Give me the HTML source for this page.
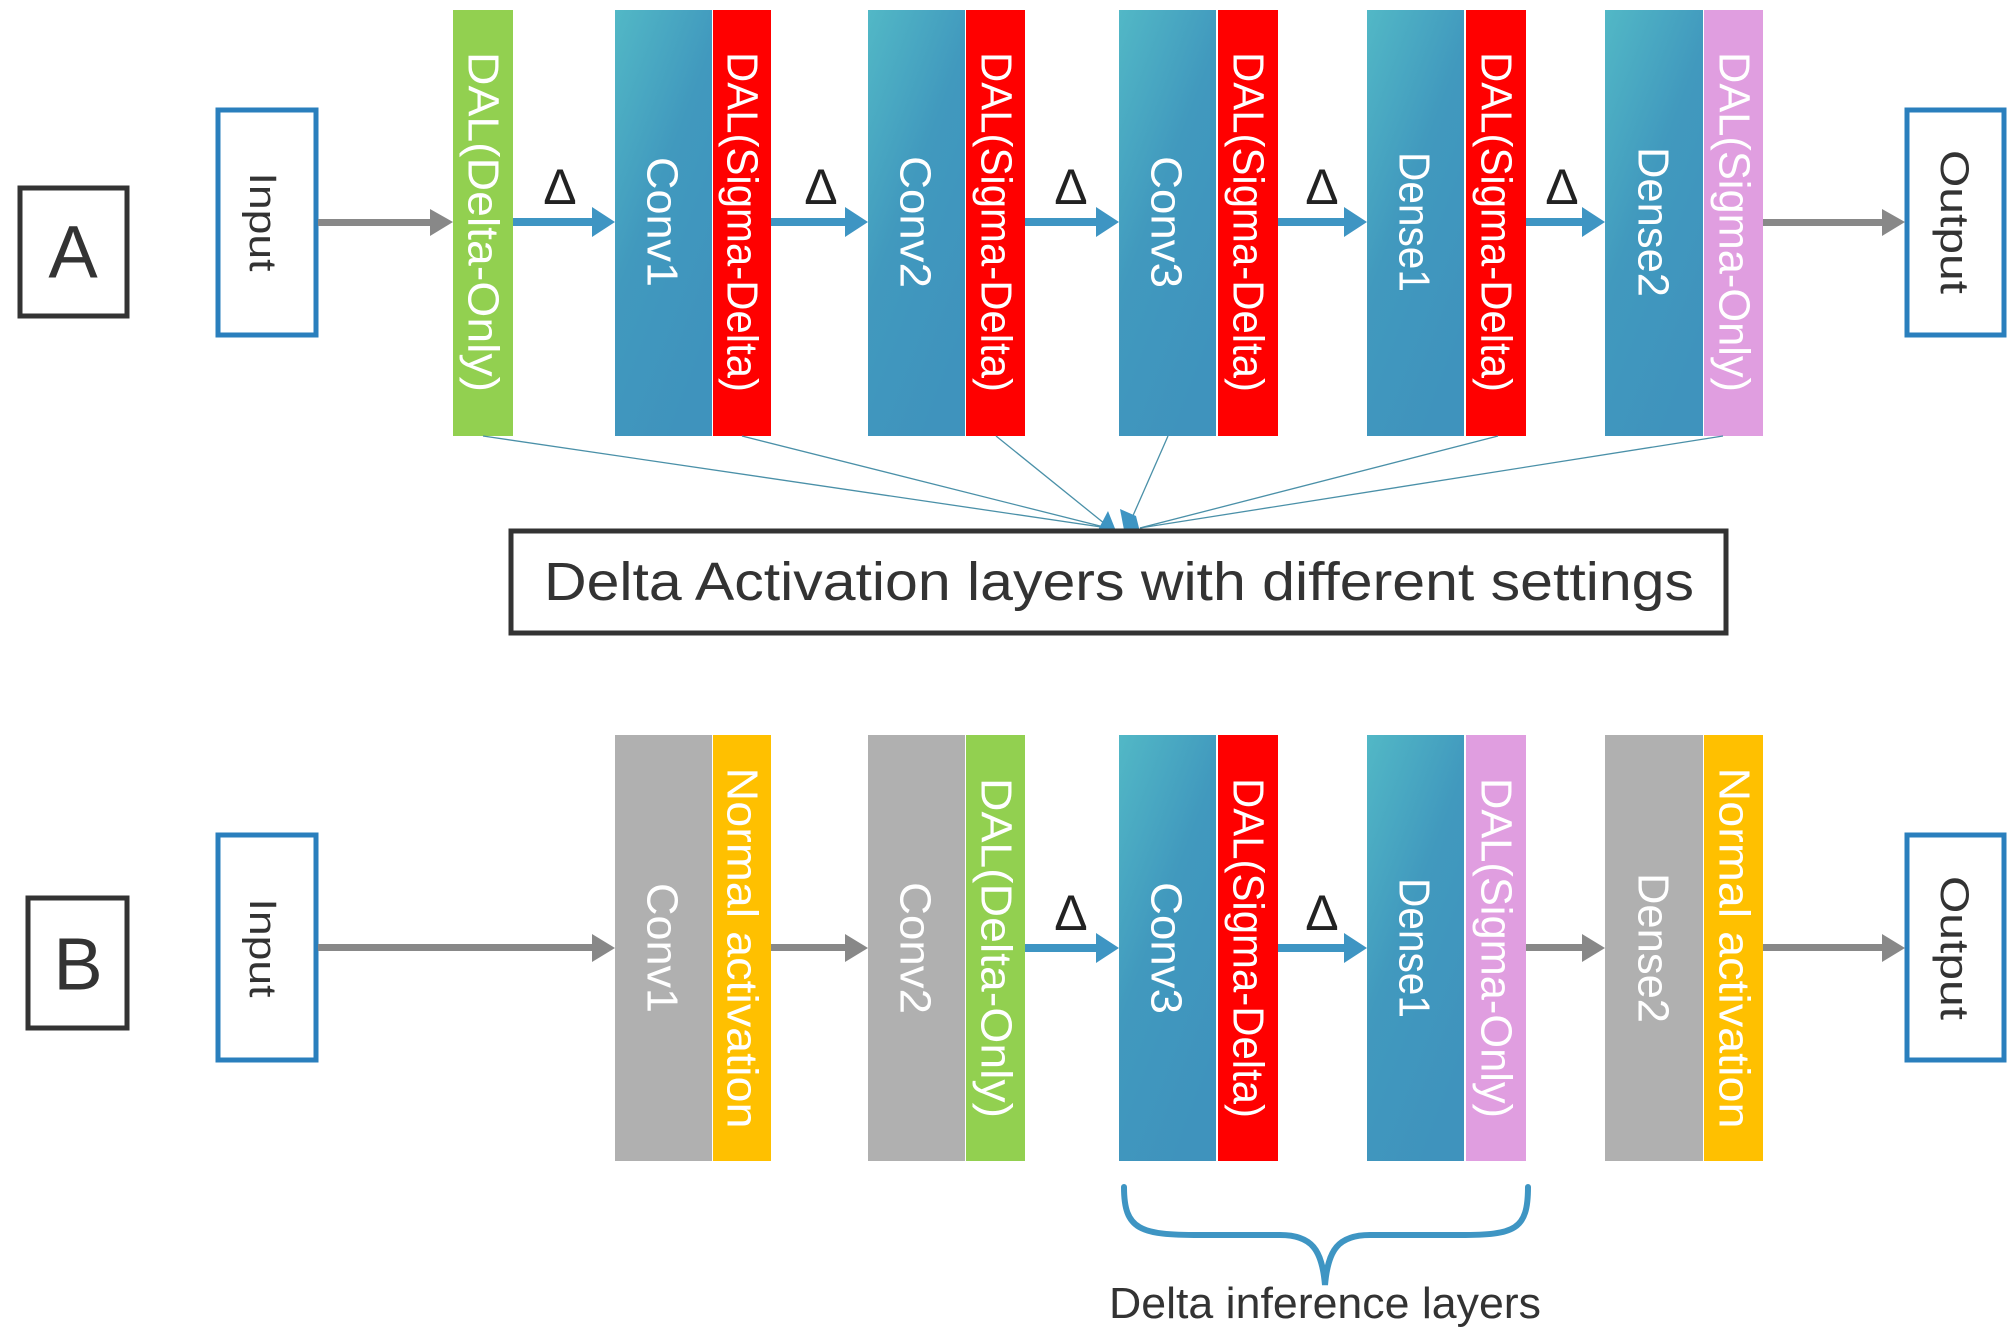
<!DOCTYPE html>
<html><head><meta charset="utf-8"><style>
html,body{margin:0;padding:0;background:#fff}
svg{display:block}
text{font-family:"Liberation Sans",sans-serif}
</style></head><body>
<svg width="2016" height="1338" viewBox="0 0 2016 1338" xmlns="http://www.w3.org/2000/svg">
<defs>
<linearGradient id="tg" x1="0" y1="0" x2="0.6" y2="1">
<stop offset="0" stop-color="#52b8c6"/><stop offset="0.5" stop-color="#4199be"/><stop offset="1" stop-color="#3f93bd"/>
</linearGradient>
</defs>

<!-- ROW A -->
<rect x="20" y="188" width="107" height="128" fill="#fff" stroke="#333" stroke-width="5"/>
<text x="73" y="252" font-size="74" fill="#333" text-anchor="middle" dominant-baseline="central">A</text>
<rect x="218" y="110" width="98" height="225" fill="#fff" stroke="#2a7fbd" stroke-width="5"/>
<text transform="translate(262,222) rotate(90)" font-size="38" fill="#333" text-anchor="middle" dominant-baseline="central" textLength="99" lengthAdjust="spacingAndGlyphs">Input</text>

<rect x="453" y="10" width="60" height="426" fill="#92d050"/>
<text transform="translate(483,222) rotate(90)" font-size="44" fill="#fff" text-anchor="middle" dominant-baseline="central" textLength="340" lengthAdjust="spacingAndGlyphs">DAL(Delta-Only)</text>

<rect x="615" y="10" width="97" height="426" fill="url(#tg)"/>
<rect x="713" y="10" width="58" height="426" fill="#ff0000"/>
<text transform="translate(662,222) rotate(90)" font-size="44" fill="#fff" text-anchor="middle" dominant-baseline="central" textLength="130" lengthAdjust="spacingAndGlyphs">Conv1</text>
<text transform="translate(742,222) rotate(90)" font-size="44" fill="#fff" text-anchor="middle" dominant-baseline="central" textLength="340" lengthAdjust="spacingAndGlyphs">DAL(Sigma-Delta)</text>

<rect x="868" y="10" width="97" height="426" fill="url(#tg)"/>
<rect x="966" y="10" width="59" height="426" fill="#ff0000"/>
<text transform="translate(915,222) rotate(90)" font-size="44" fill="#fff" text-anchor="middle" dominant-baseline="central" textLength="132" lengthAdjust="spacingAndGlyphs">Conv2</text>
<text transform="translate(996,222) rotate(90)" font-size="44" fill="#fff" text-anchor="middle" dominant-baseline="central" textLength="340" lengthAdjust="spacingAndGlyphs">DAL(Sigma-Delta)</text>

<rect x="1119" y="10" width="97" height="426" fill="url(#tg)"/>
<rect x="1218" y="10" width="60" height="426" fill="#ff0000"/>
<text transform="translate(1166,222) rotate(90)" font-size="44" fill="#fff" text-anchor="middle" dominant-baseline="central" textLength="132" lengthAdjust="spacingAndGlyphs">Conv3</text>
<text transform="translate(1248,222) rotate(90)" font-size="44" fill="#fff" text-anchor="middle" dominant-baseline="central" textLength="340" lengthAdjust="spacingAndGlyphs">DAL(Sigma-Delta)</text>

<rect x="1367" y="10" width="97" height="426" fill="url(#tg)"/>
<rect x="1466" y="10" width="60" height="426" fill="#ff0000"/>
<text transform="translate(1414,222) rotate(90)" font-size="44" fill="#fff" text-anchor="middle" dominant-baseline="central" textLength="140" lengthAdjust="spacingAndGlyphs">Dense1</text>
<text transform="translate(1496,222) rotate(90)" font-size="44" fill="#fff" text-anchor="middle" dominant-baseline="central" textLength="340" lengthAdjust="spacingAndGlyphs">DAL(Sigma-Delta)</text>

<rect x="1605" y="10" width="98" height="426" fill="url(#tg)"/>
<rect x="1704" y="10" width="59" height="426" fill="#e09ee0"/>
<text transform="translate(1653,222) rotate(90)" font-size="44" fill="#fff" text-anchor="middle" dominant-baseline="central" textLength="150" lengthAdjust="spacingAndGlyphs">Dense2</text>
<text transform="translate(1734,222) rotate(90)" font-size="44" fill="#fff" text-anchor="middle" dominant-baseline="central" textLength="340" lengthAdjust="spacingAndGlyphs">DAL(Sigma-Only)</text>

<rect x="1907" y="110" width="97" height="225" fill="#fff" stroke="#2a7fbd" stroke-width="5"/>
<text transform="translate(1954,222) rotate(90)" font-size="40" fill="#333" text-anchor="middle" dominant-baseline="central" textLength="144" lengthAdjust="spacingAndGlyphs">Output</text>

<!-- arrows A -->
<g fill="#888">
<rect x="318" y="219" width="115" height="7"/><polygon points="430,209 453,222 430,236"/>
<rect x="1763" y="219" width="122" height="7"/><polygon points="1882,209 1905,222 1882,236"/>
</g>
<g fill="#3e95c3">
<rect x="513" y="218" width="82" height="8"/><polygon points="592,207 615,222 592,237"/>
<rect x="771" y="218" width="77" height="8"/><polygon points="845,207 868,222 845,237"/>
<rect x="1025" y="218" width="74" height="8"/><polygon points="1096,207 1119,222 1096,237"/>
<rect x="1278" y="218" width="69" height="8"/><polygon points="1344,207 1367,222 1344,237"/>
<rect x="1526" y="218" width="59" height="8"/><polygon points="1582,207 1605,222 1582,237"/>
</g>
<g font-family="Liberation Serif,serif" font-size="50" fill="#222" text-anchor="middle">
<text x="560" y="204">Δ</text><text x="821" y="204">Δ</text><text x="1071" y="204">Δ</text><text x="1322" y="204">Δ</text><text x="1562" y="204">Δ</text>
</g>

<!-- fan lines -->
<g stroke="#4a90a8" stroke-width="1.3" fill="none">
<line x1="483" y1="436" x2="1108" y2="528"/>
<line x1="742" y1="436" x2="1108" y2="528"/>
<line x1="996" y1="436" x2="1110" y2="528"/>
<line x1="1168" y1="436" x2="1128" y2="527"/>
<line x1="1498" y1="436" x2="1140" y2="528"/>
<line x1="1723" y1="436" x2="1140" y2="528"/>
</g>
<polygon points="1097,532 1108,511 1116,531 1110,536" fill="#3e95c3"/>
<polygon points="1120,509 1136,516 1141,536 1124,530" fill="#3e95c3"/>

<rect x="511" y="531" width="1215" height="102" fill="#fff" stroke="#333" stroke-width="5"/>
<text x="1119" y="600" font-size="54" fill="#333" text-anchor="middle" textLength="1150" lengthAdjust="spacingAndGlyphs">Delta Activation layers with different settings</text>

<!-- ROW B -->
<rect x="28" y="898" width="99" height="130" fill="#fff" stroke="#333" stroke-width="5"/>
<text x="78" y="964" font-size="74" fill="#333" text-anchor="middle" dominant-baseline="central">B</text>
<rect x="218" y="835" width="98" height="225" fill="#fff" stroke="#2a7fbd" stroke-width="5"/>
<text transform="translate(262,948) rotate(90)" font-size="38" fill="#333" text-anchor="middle" dominant-baseline="central" textLength="99" lengthAdjust="spacingAndGlyphs">Input</text>

<rect x="615" y="735" width="97" height="426" fill="#b0b0b0"/>
<rect x="713" y="735" width="58" height="426" fill="#ffc000"/>
<text transform="translate(662,948) rotate(90)" font-size="44" fill="#fff" text-anchor="middle" dominant-baseline="central" textLength="130" lengthAdjust="spacingAndGlyphs">Conv1</text>
<text transform="translate(742,948) rotate(90)" font-size="44" fill="#fff" text-anchor="middle" dominant-baseline="central" textLength="361" lengthAdjust="spacingAndGlyphs">Normal activation</text>

<rect x="868" y="735" width="97" height="426" fill="#b0b0b0"/>
<rect x="966" y="735" width="59" height="426" fill="#92d050"/>
<text transform="translate(915,948) rotate(90)" font-size="44" fill="#fff" text-anchor="middle" dominant-baseline="central" textLength="132" lengthAdjust="spacingAndGlyphs">Conv2</text>
<text transform="translate(996,948) rotate(90)" font-size="44" fill="#fff" text-anchor="middle" dominant-baseline="central" textLength="340" lengthAdjust="spacingAndGlyphs">DAL(Delta-Only)</text>

<rect x="1119" y="735" width="97" height="426" fill="url(#tg)"/>
<rect x="1218" y="735" width="60" height="426" fill="#ff0000"/>
<text transform="translate(1166,948) rotate(90)" font-size="44" fill="#fff" text-anchor="middle" dominant-baseline="central" textLength="132" lengthAdjust="spacingAndGlyphs">Conv3</text>
<text transform="translate(1248,948) rotate(90)" font-size="44" fill="#fff" text-anchor="middle" dominant-baseline="central" textLength="340" lengthAdjust="spacingAndGlyphs">DAL(Sigma-Delta)</text>

<rect x="1367" y="735" width="97" height="426" fill="url(#tg)"/>
<rect x="1466" y="735" width="60" height="426" fill="#e09ee0"/>
<text transform="translate(1414,948) rotate(90)" font-size="44" fill="#fff" text-anchor="middle" dominant-baseline="central" textLength="140" lengthAdjust="spacingAndGlyphs">Dense1</text>
<text transform="translate(1496,948) rotate(90)" font-size="44" fill="#fff" text-anchor="middle" dominant-baseline="central" textLength="340" lengthAdjust="spacingAndGlyphs">DAL(Sigma-Only)</text>

<rect x="1605" y="735" width="98" height="426" fill="#b0b0b0"/>
<rect x="1704" y="735" width="59" height="426" fill="#ffc000"/>
<text transform="translate(1653,948) rotate(90)" font-size="44" fill="#fff" text-anchor="middle" dominant-baseline="central" textLength="150" lengthAdjust="spacingAndGlyphs">Dense2</text>
<text transform="translate(1734,948) rotate(90)" font-size="44" fill="#fff" text-anchor="middle" dominant-baseline="central" textLength="361" lengthAdjust="spacingAndGlyphs">Normal activation</text>

<rect x="1907" y="835" width="97" height="225" fill="#fff" stroke="#2a7fbd" stroke-width="5"/>
<text transform="translate(1954,948) rotate(90)" font-size="40" fill="#333" text-anchor="middle" dominant-baseline="central" textLength="144" lengthAdjust="spacingAndGlyphs">Output</text>

<g fill="#888">
<rect x="318" y="944" width="277" height="7"/><polygon points="592,934 615,948 592,962"/>
<rect x="771" y="944" width="77" height="7"/><polygon points="845,934 868,948 845,962"/>
<rect x="1526" y="944" width="59" height="7"/><polygon points="1582,934 1605,948 1582,962"/>
<rect x="1763" y="944" width="122" height="7"/><polygon points="1882,934 1905,948 1882,962"/>
</g>
<g fill="#3e95c3">
<rect x="1025" y="944" width="74" height="8"/><polygon points="1096,933 1119,948 1096,963"/>
<rect x="1278" y="944" width="69" height="8"/><polygon points="1344,933 1367,948 1344,963"/>
</g>
<g font-family="Liberation Serif,serif" font-size="50" fill="#222" text-anchor="middle">
<text x="1071" y="930">Δ</text><text x="1322" y="930">Δ</text>
</g>

<!-- brace -->
<path d="M1124,1187 C1124,1230 1140,1235 1200,1235 L1280,1235 C1312,1235 1322,1250 1325,1285 C1328,1250 1338,1235 1370,1235 L1460,1235 C1515,1235 1528,1230 1528,1187" fill="none" stroke="#3e95c3" stroke-width="6" stroke-linecap="round"/>
<text x="1325" y="1318" font-size="44" fill="#333" text-anchor="middle" textLength="432" lengthAdjust="spacingAndGlyphs">Delta inference layers</text>
</svg>
</body></html>
